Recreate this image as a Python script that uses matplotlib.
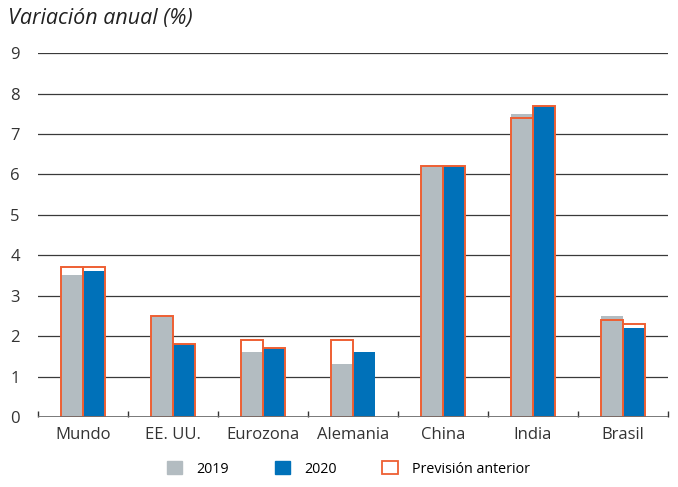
import matplotlib
matplotlib.use("Agg")
import matplotlib.pyplot as plt
from matplotlib.patches import Patch
import numpy as np

plt.rcParams['font.family'] = ['Open Sans', 'DejaVu Sans']

categories = ["Mundo", "EE. UU.", "Eurozona", "Alemania", "China", "India", "Brasil"]
v2019 = [3.5, 2.5, 1.6, 1.3, 6.2, 7.5, 2.5]
v2020 = [3.6, 1.8, 1.7, 1.6, 6.2, 7.7, 2.2]
prev2019 = [3.7, 2.5, 1.9, 1.9, 6.2, 7.4, 2.4]
prev2020 = [3.7, 1.8, 1.7, np.nan, 6.2, 7.7, 2.3]
yticks = list(range(0, 10))

GRAY = "#b3bcc1"
BLUE = "#0071b9"
ORANGE = "#ee5f33"

fig = plt.figure(figsize=(6.78, 4.87), dpi=100)
ax = fig.add_axes([0.056, 0.1437, 0.929, 0.7473])

x = np.arange(len(categories))
w = 0.245
ax.bar(x - w/2, v2019, width=w, color=GRAY, zorder=3)
ax.bar(x + w/2, v2020, width=w, color=BLUE, zorder=3)
ax.bar(x - w/2, prev2019, width=w, fill=False, edgecolor=ORANGE, linewidth=1.4, zorder=4)
ax.bar(x + w/2, prev2020, width=w, fill=False, edgecolor=ORANGE, linewidth=1.4, zorder=4)

ax.set_xlim(-0.5, len(categories) - 0.5)
ax.set_ylim(0, 9)
ax.set_yticks(yticks)
ax.set_yticklabels([str(t) for t in yticks], fontsize=12, color="#333333")
for t in yticks[1:]:
    ax.axhline(t, color="#3a3a3a", linewidth=0.9, zorder=1)
ax.axhline(0, color="#6d6d6d", linewidth=2, zorder=5)

for s in ax.spines.values():
    s.set_visible(False)
ax.tick_params(axis='y', length=0, pad=13)
ax.set_xticks(x)
ax.set_xticklabels(categories, fontsize=12, color="#333333")
ax.tick_params(axis='x', which='major', length=0, pad=7)
ax.set_xticks(np.arange(-0.5, len(categories), 1.0), minor=True)
ax.tick_params(axis='x', which='minor', direction='in', length=4, width=1, color="#333333")

fig.text(0.012, 0.962, "Variación anual (%)", fontsize=15.5, style='italic', color="#222222", va='center')

handles = [Patch(facecolor=GRAY, edgecolor=GRAY, label="2019"),
           Patch(facecolor=BLUE, edgecolor=BLUE, label="2020"),
           Patch(facecolor="white", edgecolor=ORANGE, linewidth=1.3, label="Previsión anterior")]
fig.legend(handles=handles, loc='lower center', bbox_to_anchor=(0.514, -0.005), ncol=3, frameon=False,
           fontsize=10.3, handlelength=1.05, handleheight=1.05, columnspacing=3.2, handletextpad=1.0)

fig.savefig("out.png", dpi=100)
